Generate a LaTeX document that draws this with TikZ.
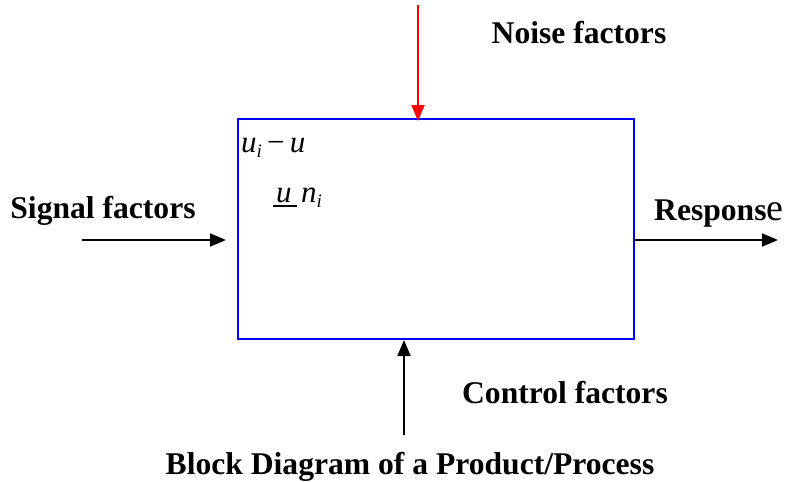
\documentclass[tikz,border=0pt]{standalone}
\usepackage{fontspec}
\setmainfont{Liberation Serif}
\usetikzlibrary{arrows.meta}
\tikzset{
  lbl/.style={font=\fontsize{31.6}{36}\selectfont\bfseries, inner sep=0pt, anchor=base},
  var/.style={font=\fontsize{31}{34}\selectfont\itshape, inner sep=0pt, anchor=base west},
  flow/.style={line width=1.8pt, -{Triangle[length=16pt,width=13pt]}},
}
\begin{document}
\begin{tikzpicture}[x=1pt,y=-1pt]
\useasboundingbox (0,0) rectangle (788,482);

% process block
\draw[blue, line width=2.8pt] (238,119) rectangle (634,339);
\coordinate (boxtop) at (418,121);
\coordinate (boxbot) at (404,340);
\coordinate (boxright) at (634,240);

% free ends of the connectors
\coordinate (noisein) at (418,5);
\coordinate (sigstart) at (82,240);
\coordinate (sigend) at (226,240);
\coordinate (respend) at (778,240);
\coordinate (ctrlstart) at (404,435);

% connectors
\draw[flow, red] (noisein) -- (boxtop);
\draw[flow] (sigstart) -- (sigend);
\draw[flow] (boxright) -- (respend);
\draw[flow] (ctrlstart) -- (boxbot);

% labels
\node[lbl] (noise) at (579,43) {Noise factors};
\node[lbl] (signal) at (103,218) {Signal factors};
\node[lbl, anchor=base west] (resp) at (654,220) {Respons\fontsize{38}{40}\selectfont\mdseries e};
\node[lbl] (control) at (565,403) {Control factors};
\node[lbl] (caption) at (410,474) {Block Diagram of a Product/Process};

% quantities inside the block
\node[var] (ui) at (241,152) {u\raisebox{-5pt}{\fontsize{19}{20}\selectfont i}\,{\upshape −}\,u};
\node[var] (uni) at (276,202) {u\hspace{0.3em}n\raisebox{-5pt}{\fontsize{19}{20}\selectfont i}};
\draw[line width=2.2pt] (273,206) -- (297,206);
\end{tikzpicture}
\end{document}
